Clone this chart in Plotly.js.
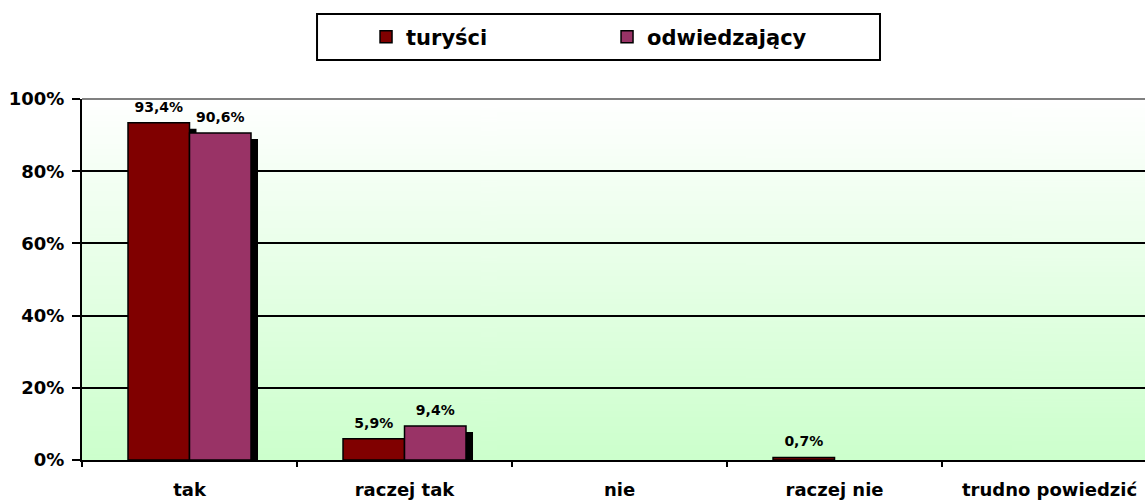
<!DOCTYPE html>
<html><head><meta charset="utf-8">
<script src="https://cdn.plot.ly/plotly-3.0.1.min.js"></script>
<style>html,body{margin:0;padding:0;background:#fff}#chart{width:1145px;height:502px}</style>
</head><body><div id="chart"></div>
<script>
const categories = ['tak', 'raczej tak', 'nie', 'raczej nie', 'trudno powiedzić'];
const seriesNames = ['turyści', 'odwiedzający'];
const turysci = [93.4, 5.9, 0, 0.7, 0];
const odwiedzajacy = [90.6, 9.4, 0, 0, 0];
const yTickVals = [0, 20, 40, 60, 80, 100];
const yTickText = ['0%', '20%', '40%', '60%', '80%', '100%'];

const FONT = 'DejaVu Sans, Verdana, sans-serif';
const barW = 0.286;
const shadowDx = 0.0326;
const shadowDy = 1.66;
const labelLift = 1.4;
function lbl(v) { return v > 0 ? v.toFixed(1).replace('.', ',') + '%' : ''; }

const cv = document.createElement('canvas'); cv.width = 4; cv.height = 256;
const ctx = cv.getContext('2d');
const g = ctx.createLinearGradient(0, 0, 0, 256);
g.addColorStop(0, '#ffffff'); g.addColorStop(1, '#ccffcc');
ctx.fillStyle = g; ctx.fillRect(0, 0, 4, 256);
const bgURL = cv.toDataURL();

function shadow(vals, off) {
  return {type: 'bar', x: categories, y: vals, base: -shadowDy, width: barW, offset: off + shadowDx,
    marker: {color: '#000000', line: {width: 0}}, showlegend: false, hoverinfo: 'skip'};
}
function real(vals, off, name, color) {
  return {type: 'bar', name: name, x: categories, y: vals, width: barW, offset: off,
    marker: {color: color, line: {color: '#000000', width: vals.map(v => v > 0 ? 1.5 : 0)}},
    hoverinfo: 'skip'};
}
function labels(vals, off) {
  return {type: 'bar', x: categories, y: vals, base: labelLift, width: barW, offset: off,
    marker: {color: 'rgba(0,0,0,0)', line: {width: 0}}, showlegend: false, hoverinfo: 'skip',
    text: vals.map(lbl), textposition: 'outside', cliponaxis: false,
    textfont: {family: FONT, size: 14, weight: 'bold', color: '#000000'}};
}

const data = [
  shadow(turysci, -barW), shadow(odwiedzajacy, 0),
  real(turysci, -barW, seriesNames[0], '#800000'),
  real(odwiedzajacy, 0, seriesNames[1], '#993366'),
  labels(turysci, -barW), labels(odwiedzajacy, 0)
];

const layout = {
  width: 1145, height: 502,
  margin: {l: 82, r: 0, t: 99, b: 42, pad: 0},
  paper_bgcolor: '#ffffff', plot_bgcolor: 'rgba(0,0,0,0)',
  barmode: 'overlay',
  font: {family: FONT, color: '#000000'},
  images: [{source: bgURL, xref: 'paper', yref: 'paper', x: 0, y: 1, sizex: 1, sizey: 1,
    xanchor: 'left', yanchor: 'top', sizing: 'stretch', layer: 'below'}],
  xaxis: {type: 'category', range: [-0.5, 4.444], tickson: 'boundaries', ticks: 'outside',
    ticklen: 5, tickwidth: 2, tickcolor: '#000000', showline: true, linecolor: '#000000', linewidth: 2,
    showgrid: false, zeroline: false, ticklabelstandoff: 12,
    tickfont: {family: FONT, size: 18, weight: 'bold', color: '#000000'}},
  yaxis: {range: [0, 100], tickvals: yTickVals, ticktext: yTickText, ticks: 'outside', ticklen: 8,
    tickwidth: 2, tickcolor: '#000000', showline: true, linecolor: '#000000', linewidth: 2,
    showgrid: true, gridcolor: '#000000', gridwidth: 2, zeroline: false, ticklabelstandoff: 4,
    tickfont: {family: FONT, size: 18, weight: 'bold', color: '#000000'}},
  legend: {orientation: 'h', x: 0.2672, xanchor: 'left', y: 1.1717, yanchor: 'middle',
    font: {family: FONT, size: 21, weight: 'bold', color: '#000000'},
    bgcolor: 'rgba(0,0,0,0)', borderwidth: 0, entrywidth: 196, entrywidthmode: 'pixels'},
  shapes: [
    {type: 'line', xref: 'paper', yref: 'paper', x0: 0, x1: 1, y0: 1, y1: 1, line: {color: '#808080', width: 2}},
    {type: 'rect', xref: 'paper', yref: 'paper', x0: 0.2211, x1: 0.7507, y0: 1.108, y1: 1.2355,
      line: {color: '#000000', width: 2}, fillcolor: 'rgba(0,0,0,0)'}
  ],
  showlegend: true
};

Plotly.newPlot('chart', data, layout, {displayModeBar: false, staticPlot: true});
</script></body></html>
